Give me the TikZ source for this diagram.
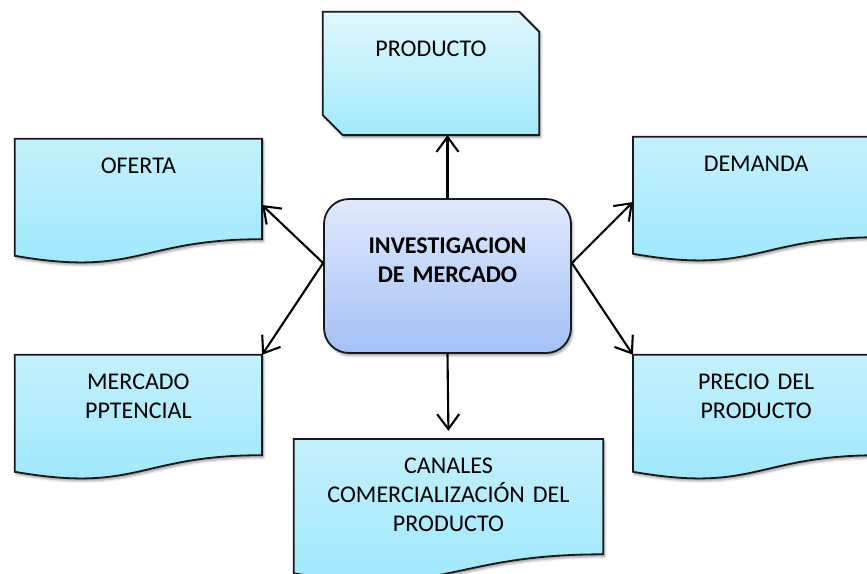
\documentclass[tikz,border=0pt]{standalone}
\usepackage{fontspec}
\setmainfont{Carlito}
\usetikzlibrary{arrows.meta,calc,positioning,backgrounds,shadows.blur}

\definecolor{docTop}{HTML}{C4F0FC}
\definecolor{docBottom}{HTML}{9CE7FC}
\definecolor{prodTop}{HTML}{E0F7FE}
\definecolor{prodBottom}{HTML}{A2E9FC}
\definecolor{hubTop}{HTML}{E0E9FC}
\definecolor{hubBottom}{HTML}{A3C0F7}

\begin{document}
\begin{tikzpicture}[x=1pt, y=-1pt,
					font=\fontsize{24}{29}\selectfont,
					hubnode/.style={rectangle,
					rounded corners=25pt,
					line width=1.8pt,
					draw=black!90,
					top color=hubTop,
					bottom color=hubBottom,
					inner sep=0pt,
					text width=247pt,
					align=center,
					text height=54pt,
					text depth=100pt,
					font=\fontsize{24}{29}\selectfont\bfseries,
					blur shadow={shadow xshift=1.5pt, shadow yshift=-2.5pt, shadow blur radius=2.5pt, shadow opacity=40}},
					docnode/.style 2 args={rectangle,
					inner sep=0pt,
					text width=#1,
					align=center,
					text height=34pt,
					text depth=#2},
					docline/.style={line width=1.8pt,
					draw=black!90,
					top color=docTop,
					bottom color=docBottom,
					blur shadow={shadow xshift=1.5pt, shadow yshift=-2.5pt, shadow blur radius=2.5pt, shadow opacity=40}},
					link/.style={-{Straight Barb[length=15pt, width=22pt]},
					line width=2.1pt,
					black}
					]

\useasboundingbox (0,0) rectangle (867,573);

%hub
\node[hubnode] (inv) at (447.5,276) {INVESTIGACION\\DE MERCADO};

%boxes
\node[docnode={216pt}{78pt}, text height=45pt] (producto) [above=63pt of inv, xshift=-16.5pt] {PRODUCTO};
\node[docnode={247pt}{66pt}] (oferta) [left=61pt of inv, yshift=87pt] {OFERTA};
\node[docnode={247pt}{66pt}] (mercado) [left=61pt of inv, yshift=-129pt] {MERCADO\\PPTENCIAL};
\node[docnode={246pt}{66pt}] (demanda) [right=61pt of inv, yshift=89pt] {DEMANDA};
\node[docnode={246pt}{66pt}] (precio) [right=61pt of inv, yshift=-129pt] {PRECIO DEL\\PRODUCTO};
\node[docnode={309pt}{81pt}] (canales) [below=85pt of inv, xshift=1pt] {CANALES\\COMERCIALIZACIÓN DEL\\PRODUCTO};

%shapes behind the text
\begin{scope}[on background layer]
\draw[docline, top color=prodTop, bottom color=prodBottom] (producto.north west) -- ([xshift=-20pt]producto.north east) -- ([yshift=-20pt]producto.north east)
	-- (producto.south east) -- ([xshift=20pt]producto.south west) -- ([yshift=20pt]producto.south west) -- cycle;
\foreach \b in {oferta,mercado,demanda,precio,canales}
	\draw[docline] let \p1=($(\b.north)-(\b.south)$) in
		(\b.north west) -- (\b.north east) -- (\b.south east)
		.. controls (\b.south) and ($(\b.south)+(0,-0.381*\y1)$) .. ($(\b.south west)+(0,-0.165*\y1)$) -- cycle;
\end{scope}

%paths
\draw[link] (inv.north) -- (inv.north |- producto.south);
\draw[link] ([yshift=13pt]inv.west) -- ([yshift=-16pt]oferta.east);
\draw[link] ([yshift=13pt]inv.west) -- (mercado.north east);
\draw[link] ([yshift=13pt]inv.east) -- ([yshift=-15pt]demanda.west);
\draw[link] ([yshift=13pt]inv.east) -- (precio.north west);
\draw[link, shorten >=8pt] (inv.south) -- (canales.north);
\end{tikzpicture}
\end{document}
